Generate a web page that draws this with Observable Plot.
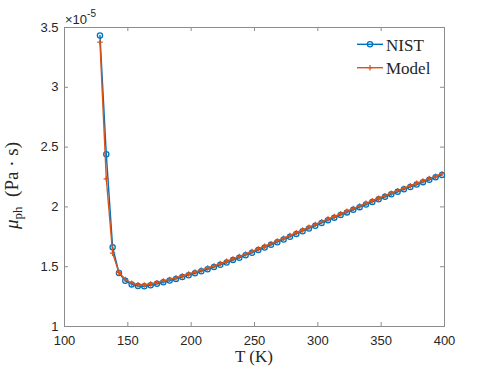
<!DOCTYPE html>
<html><head><meta charset="utf-8">
<script src="https://cdn.jsdelivr.net/npm/d3@7"></script>
<script src="https://cdn.jsdelivr.net/npm/@observablehq/plot@0.6"></script>
<style>body{margin:0;background:#fff}</style>
</head><body><div id="chart"></div>
<script>
const temperatures = [128,133,138,143,148,153,158,163,168,173,178,183,188,193,198,203,208,213,218,223,228,233,238,243,248,253,258,263,268,273,278,283,288,293,298,303,308,313,318,323,328,333,338,343,348,353,358,363,368,373,378,383,388,393,398];
const nistValues = [3.433,2.440,1.663,1.447,1.383,1.352,1.339,1.337,1.345,1.357,1.370,1.384,1.398,1.413,1.429,1.445,1.462,1.479,1.497,1.516,1.535,1.555,1.575,1.596,1.617,1.639,1.661,1.683,1.705,1.728,1.751,1.774,1.797,1.820,1.843,1.866,1.888,1.910,1.932,1.954,1.976,1.998,2.020,2.042,2.063,2.084,2.105,2.126,2.147,2.167,2.187,2.207,2.227,2.247,2.267];
const modelValues = [3.377,2.235,1.613,1.452,1.393,1.362,1.349,1.347,1.355,1.367,1.380,1.394,1.408,1.423,1.439,1.455,1.472,1.489,1.507,1.526,1.545,1.565,1.585,1.606,1.627,1.649,1.671,1.693,1.715,1.738,1.761,1.784,1.807,1.830,1.853,1.876,1.898,1.920,1.942,1.964,1.986,2.008,2.030,2.052,2.073,2.094,2.115,2.136,2.157,2.177,2.197,2.217,2.237,2.257,2.277];
const xTicks = [100,150,200,250,300,350,400];
const yTicks = [1,1.5,2,2.5,3,3.5];
const seriesNames = ["NIST","Model"];

const blue = "#0072BD", orange = "#D95319", axisColor = "#8c8c8c", textColor = "#262626";
const nist = temperatures.map((t,i)=>({T:t, v:nistValues[i]}));
const model = temperatures.map((t,i)=>({T:t, v:modelValues[i]}));
const W = 491, H = 368, mL = 64, mR = 47, mT = 27, mB = 42;
const fw = W - mL - mR, fh = H - mT - mB, tl = 4;
const plusR = 1.9;

const plot = Plot.plot({
  width: W, height: H, marginLeft: mL, marginRight: mR, marginTop: mT, marginBottom: mB,
  style: {fontFamily: "'Liberation Sans', Arial, sans-serif", fontSize: "13px", color: textColor, background: "#fff", overflow: "visible"},
  x: {domain: [100, 400]},
  y: {domain: [1, 3.5]},
  marks: [
    Plot.frame({stroke: axisColor}),
    Plot.tickX(xTicks, {x: d => d, stroke: axisColor, insetTop: fh - tl}),
    Plot.tickX(xTicks, {x: d => d, stroke: axisColor, insetBottom: fh - tl}),
    Plot.tickY(yTicks, {y: d => d, stroke: axisColor, insetRight: fw - tl}),
    Plot.tickY(yTicks, {y: d => d, stroke: axisColor, insetLeft: fw - tl}),
    Plot.axisX(xTicks, {tickSize: 0, tickPadding: 9, label: null, fill: textColor, tickFormat: d => String(d)}),
    Plot.axisY(yTicks, {tickSize: 0, tickPadding: 6, label: null, fill: textColor, tickFormat: d => String(d)}),
    Plot.line(nist, {x: "T", y: "v", stroke: blue, strokeWidth: 1.4}),
    Plot.dot(nist, {x: "T", y: "v", stroke: blue, fill: "none", r: 2.6, strokeWidth: 1.3}),
    Plot.line(model, {x: "T", y: "v", stroke: orange, strokeWidth: 1.4}),
    Plot.dot(model, {x: "T", y: "v", stroke: orange, symbol: "plus", r: plusR, strokeWidth: 1.2})
  ]
});
document.getElementById("chart").appendChild(plot);

const svg = d3.select(plot);
const serif = "'Liberation Serif', 'DejaVu Serif', serif";
// exponent
const ex = svg.append("text").attr("x", mL + 1).attr("y", mT - 3).attr("fill", textColor).attr("text-anchor", "start")
  .style("font-family", "'Liberation Sans', Arial, sans-serif").style("font-size", "13px");
ex.append("tspan").text("×10");
ex.append("tspan").attr("dy", -7).style("font-size", "10px").text("-5");
// x label
svg.append("text").attr("x", mL + fw / 2).attr("y", 362).attr("text-anchor", "middle")
  .attr("fill", textColor).style("font-family", serif).style("font-size", "17px").text("T (K)");
// y label
const yl = svg.append("text").attr("transform", `translate(18,${mT + fh / 2 + 9}) rotate(-90)`)
  .attr("text-anchor", "middle").attr("fill", textColor).style("font-family", serif).style("font-size", "19px");
yl.append("tspan").style("font-style", "italic").text("μ");
yl.append("tspan").attr("dy", 4).style("font-size", "13px").text("ph");
yl.append("tspan").attr("dy", -4).attr("xml:space", "preserve").text("  (Pa · s)");
// legend
const legend = svg.append("g").attr("text-anchor", "start");
const rows = [{name: seriesNames[0], color: blue, y: 44.3, sym: "circle"}, {name: seriesNames[1], color: orange, y: 67.7, sym: "plus"}];
rows.forEach(r => {
  legend.append("line").attr("x1", 357).attr("x2", 383).attr("y1", r.y).attr("y2", r.y)
    .attr("stroke", r.color).attr("stroke-width", 1.4);
  if (r.sym === "circle") {
    legend.append("circle").attr("cx", 370).attr("cy", r.y).attr("r", 2.6)
      .attr("fill", "none").attr("stroke", r.color).attr("stroke-width", 1.3);
  } else {
    legend.append("path").attr("d", d3.symbol(d3.symbolPlus, plusR * plusR * Math.PI)())
      .attr("transform", `translate(370,${r.y})`).attr("fill", "none").attr("stroke", r.color).attr("stroke-width", 1.2);
  }
  legend.append("text").attr("x", 386).attr("y", r.y + 6.2).attr("fill", textColor).attr("text-anchor", "start")
    .style("font-family", serif).style("font-size", "17px").text(r.name);
});
</script>
</body></html>
